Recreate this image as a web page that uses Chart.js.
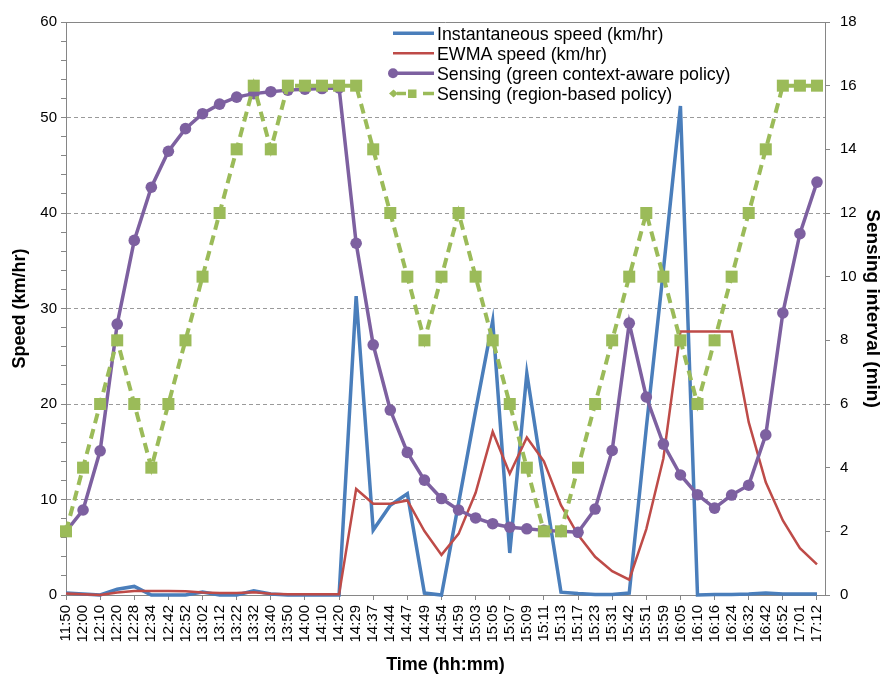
<!DOCTYPE html>
<html>
<head>
<meta charset="utf-8">
<script src="https://cdn.jsdelivr.net/npm/chart.js@4/dist/chart.umd.min.js"></script>
<style>html,body{margin:0;padding:0;background:#fff;}canvas{display:block;}</style>
</head>
<body>
<canvas id="c" width="882" height="678"></canvas>
<script>
const timeLabels = ['11:50','12:00','12:10','12:20','12:28','12:34','12:42','12:52','13:02','13:12','13:22','13:32','13:40','13:50','14:00','14:10','14:20','14:29','14:37','14:44','14:47','14:49','14:54','14:59','15:03','15:05','15:07','15:09','15:11','15:13','15:17','15:23','15:31','15:42','15:51','15:59','16:05','16:10','16:16','16:24','16:32','16:42','16:52','17:01','17:12'];
const instSpeed = [0.2,0.1,0,0.6,0.9,0,0,0,0.3,0,0,0.45,0.1,0,0,0,0,31.3,6.8,9.4,10.6,0.2,0,9.6,19.3,28.7,4.4,23.2,11.6,0.3,0.15,0.05,0.05,0.2,17.5,34,51.2,0,0.05,0.05,0.1,0.2,0.1,0.1,0.1];
const ewmaSpeed = [0.15,0.07,0,0.25,0.42,0.42,0.42,0.4,0.25,0.22,0.22,0.28,0.14,0.07,0.07,0.07,0.07,11.1,9.55,9.55,9.9,6.7,4.2,6.4,10.7,17.1,12.7,16.5,14.0,9.4,6.3,4.0,2.5,1.6,6.9,14.3,27.6,27.6,27.6,27.6,18.1,11.8,7.8,4.9,3.2];
const greenPolicy = [2.0,2.67,4.53,8.51,11.14,12.81,13.94,14.65,15.12,15.42,15.64,15.75,15.81,15.86,15.89,15.91,15.93,11.05,7.86,5.81,4.48,3.61,3.03,2.67,2.42,2.24,2.13,2.08,2.03,2.0,1.97,2.7,4.54,8.54,6.22,4.74,3.77,3.15,2.73,3.14,3.45,5.03,8.86,11.35,12.97];
const regionPolicy = [2,4,6,8,6,4,6,8,10,12,14,16,14,16,16,16,16,16,14,12,10,8,10,12,10,8,6,4,2,2,4,6,8,10,12,10,8,6,8,10,12,14,16,16,16];
const speedTickLabels = [0,10,20,30,40,50,60];
const intervalTickLabels = [0,2,4,6,8,10,12,14,16,18];
const seriesNames = ['Instantaneous speed (km/hr)','EWMA speed (km/hr)','Sensing (green context-aware policy)','Sensing (region-based policy)'];

const AX = '#868686';
const GRID = '#9a9a9a';
const FONT = "'Liberation Sans', Arial, sans-serif";
const pts = arr => arr.map((v, i) => ({x: i, y: v}));

const topBorder = {
  id: 'topBorder',
  beforeDatasetsDraw(chart) {
    const {ctx, chartArea: a} = chart;
    ctx.save();
    ctx.strokeStyle = AX; ctx.lineWidth = 1;
    ctx.beginPath(); ctx.moveTo(a.left, a.top + 0.5); ctx.lineTo(a.right, a.top + 0.5); ctx.stroke();
    ctx.restore();
  }
};

const customLegend = {
  id: 'customLegend',
  afterDraw(chart) {
    const ctx = chart.ctx;
    const ds = chart.data.datasets;
    const x0 = 393, x1 = 434, tx = 437, rows = [33.3, 53.3, 73.3, 93.5];
    const widths = [3.5, 2.5, 3.5, 3.5];
    ctx.save();
    ds.forEach((d, i) => {
      const y = rows[i];
      ctx.strokeStyle = d.borderColor; ctx.fillStyle = d.borderColor;
      ctx.lineWidth = widths[i]; ctx.setLineDash([]);
      if (i < 3) {
        ctx.beginPath(); ctx.moveTo(x0, y); ctx.lineTo(x1, y); ctx.stroke();
      }
      if (i === 2) {
        ctx.beginPath(); ctx.arc(x0, y, 5, 0, Math.PI * 2); ctx.fill();
      }
      if (i === 3) {
        ctx.beginPath(); ctx.moveTo(389, y); ctx.lineTo(393.5, y - 4); ctx.lineTo(398, y); ctx.lineTo(393.5, y + 4); ctx.closePath(); ctx.fill();
        ctx.beginPath(); ctx.moveTo(397, y); ctx.lineTo(406, y); ctx.stroke();
        ctx.fillRect(408, y - 4, 8.5, 8.5);
        ctx.beginPath(); ctx.moveTo(423, y); ctx.lineTo(434, y); ctx.stroke();
      }
      ctx.fillStyle = '#000';
      ctx.font = '17.8px ' + FONT;
      ctx.textBaseline = 'alphabetic'; ctx.textAlign = 'left';
      ctx.fillText(d.label, tx, y + 6.2);
    });
    ctx.restore();
  }
};

new Chart(document.getElementById('c'), {
  type: 'line',
  data: {
    datasets: [
      {label: seriesNames[0], data: pts(instSpeed), yAxisID: 'y', borderColor: '#4A7EBB', backgroundColor: '#4A7EBB', borderWidth: 3.5, pointRadius: 0, order: 4, clip: 8},
      {label: seriesNames[1], data: pts(ewmaSpeed), yAxisID: 'y', borderColor: '#BE4B48', backgroundColor: '#BE4B48', borderWidth: 2.5, pointRadius: 0, order: 3, clip: 8},
      {label: seriesNames[2], data: pts(greenPolicy), yAxisID: 'y2', borderColor: '#7D60A0', backgroundColor: '#7D60A0', borderWidth: 3.5, pointRadius: 5.8, pointStyle: 'circle', pointBorderWidth: 0, order: 2, clip: 8},
      {label: seriesNames[3], data: pts(regionPolicy), yAxisID: 'y2', borderColor: '#9BBB59', backgroundColor: '#9BBB59', borderWidth: 4, borderDash: [10, 6], pointRadius: 8.5, pointStyle: 'rect', pointBorderWidth: 0, order: 1, clip: 10}
    ]
  },
  options: {
    responsive: false,
    animation: false,
    devicePixelRatio: 1,
    layout: {padding: {top: 22, left: 0, right: 0, bottom: 0}},
    plugins: {legend: {display: false}, tooltip: {enabled: false}},
    scales: {
      x: {
        type: 'linear', min: 0, max: 44.47,
        afterBuildTicks: s => { s.ticks = timeLabels.map((_, i) => ({value: i})); },
        afterFit: s => { s.height = 83; },
        ticks: {autoSkip: false, minRotation: 90, maxRotation: 90, padding: 5, color: '#000',
          font: {family: FONT, size: 15}, callback: v => timeLabels[v] ?? ''},
        grid: {drawOnChartArea: false, drawTicks: true, tickLength: 5,
          tickColor: c => (c.index % 2 === 0 ? AX : 'rgba(0,0,0,0)'), color: AX},
        border: {color: AX, width: 1},
        title: {display: true, text: 'Time (hh:mm)', color: '#000',
          font: {family: FONT, size: 18, weight: 'bold'}, padding: {top: 0, bottom: 2}}
      },
      y: {
        position: 'left', min: 0, max: 60,
        afterFit: s => { s.width = 66; },
        ticks: {stepSize: 2, autoSkip: false, padding: 4, color: '#000', font: {family: FONT, size: 15},
          callback: v => (speedTickLabels.includes(v) ? String(v) : '')},
        grid: {drawTicks: true, tickLength: 5, tickColor: AX, lineWidth: 1,
          color: c => (c.tick && c.tick.value % 10 === 0 && c.tick.value > 0 && c.tick.value < 60) ? GRID : 'rgba(0,0,0,0)'},
        border: {color: AX, width: 1, dash: [4, 3]},
        title: {display: true, text: 'Speed (km/hr)', color: '#000',
          font: {family: FONT, size: 18, weight: 'bold'}, padding: {top: 9, bottom: 0}}
      },
      y2: {
        position: 'right', min: 0, max: 18,
        afterFit: s => { s.width = 57; },
        afterBuildTicks: s => { s.ticks = intervalTickLabels.map(v => ({value: v})); },
        ticks: {padding: 10, color: '#000', font: {family: FONT, size: 15}, callback: v => String(v)},
        grid: {drawOnChartArea: false, drawTicks: true, tickLength: 5, tickColor: AX, color: AX},
        border: {color: AX, width: 1},
        title: {display: true, text: 'Sensing interval (min)', color: '#000',
          font: {family: FONT, size: 19, weight: 'bold', lineHeight: 1}, padding: {top: 0, bottom: 0}}
      }
    }
  },
  plugins: [topBorder, customLegend]
});
</script>
</body>
</html>
